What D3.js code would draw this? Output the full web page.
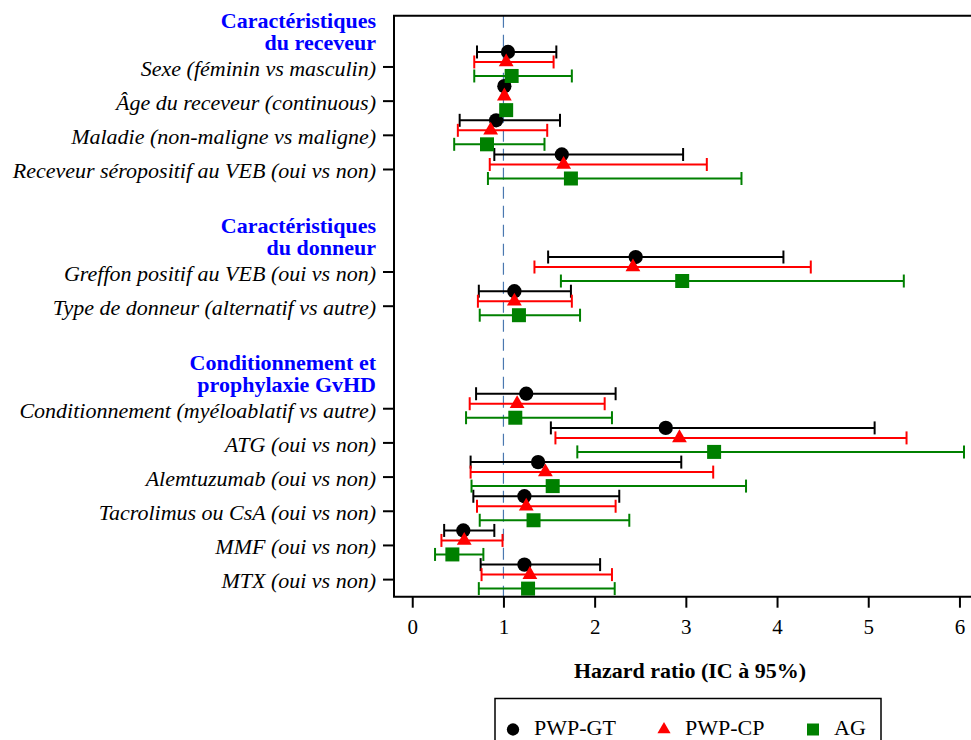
<!DOCTYPE html>
<html>
<head>
<meta charset="utf-8">
<script src="https://cdn.jsdelivr.net/npm/d3@7"></script>
<style>
  html, body { margin: 0; padding: 0; background: #fff; }
  svg { display: block; }
  text { font-family: "Liberation Serif", "Times New Roman", "DejaVu Serif", serif; }
</style>
</head>
<body>
<svg id="chart" width="971" height="740"></svg>
<script>
// ---------------- DATA ----------------
const groupHeaders = [
  ["Caractéristiques", "du receveur"],
  ["Caractéristiques", "du donneur"],
  ["Conditionnement et", "prophylaxie GvHD"]
];
const groupItems = [
  ["Sexe (féminin vs masculin)", "Âge du receveur (continuous)", "Maladie (non-maligne vs maligne)", "Receveur séropositif au VEB (oui vs non)"],
  ["Greffon positif au VEB (oui vs non)", "Type de donneur (alternatif vs autre)"],
  ["Conditionnement (myéloablatif vs autre)", "ATG (oui vs non)", "Alemtuzumab (oui vs non)", "Tacrolimus ou CsA (oui vs non)", "MMF (oui vs non)", "MTX (oui vs non)"]
];
const seriesNames = ["PWP-GT", "PWP-CP", "AG"];

// hazard ratios, in the order of the items above
const hrGT   = [1.05, 1.01, 0.92, 1.64, 2.45, 1.12, 1.25, 2.78, 1.38, 1.23, 0.56, 1.23];
const lowGT  = [0.71, 1.00, 0.52, 0.90, 1.49, 0.73, 0.70, 1.52, 0.64, 0.67, 0.35, 0.75];
const highGT = [1.58, 1.02, 1.62, 2.97, 4.07, 1.74, 2.23, 5.07, 2.95, 2.27, 0.90, 2.06];

const hrCP   = [1.03, 1.01, 0.86, 1.66, 2.42, 1.12, 1.15, 2.93, 1.46, 1.25, 0.57, 1.29];
const lowCP  = [0.68, 1.00, 0.50, 0.85, 1.34, 0.72, 0.63, 1.57, 0.64, 0.71, 0.32, 0.76];
const highCP = [1.55, 1.02, 1.48, 3.23, 4.37, 1.75, 2.11, 5.42, 3.30, 2.23, 0.99, 2.19];

const hrAG   = [1.09, 1.03, 0.82, 1.74, 2.96, 1.17, 1.13, 3.31, 1.54, 1.33, 0.44, 1.27];
const lowAG  = [0.68, 1.02, 0.46, 0.83, 1.63, 0.74, 0.59, 1.81, 0.65, 0.74, 0.25, 0.73];
const highAG = [1.75, 1.04, 1.45, 3.61, 5.39, 1.84, 2.19, 6.05, 3.66, 2.38, 0.78, 2.22];

const xTicks = [0, 1, 2, 3, 4, 5, 6];
const xTitle = "Hazard ratio (IC à 95%)";

// ---------------- LAYOUT ----------------
const svg = d3.select("#chart");
const plotLeft = 394, plotTop = 15.7, plotBottom = 596.7, plotRight = 976;

// build row list: header, items, blank separators
const rows = [];
const itemRows = [];
groupHeaders.forEach((h, gi) => {
  rows.push({ key: "h" + gi, type: "header", lines: h });
  groupItems[gi].forEach((lab) => {
    const r = { key: "i" + itemRows.length, type: "item", label: lab, idx: itemRows.length };
    rows.push(r); itemRows.push(r);
  });
  if (gi < groupHeaders.length - 1) rows.push({ key: "b" + gi, type: "blank" });
});

const x = d3.scaleLinear().domain([-0.2, 6.2]).range([plotLeft, plotLeft + 6.4 * 91.2]);
const y = d3.scalePoint().domain(rows.map(r => r.key)).range([plotTop, plotBottom]).padding(0.5);

const series = [
  { name: seriesNames[0], hr: hrGT, lo: lowGT, hi: highGT, color: "#000000", shape: d3.symbolCircle, size: 160, off: -15 },
  { name: seriesNames[1], hr: hrCP, lo: lowCP, hi: highCP, color: "#ff0000", shape: d3.symbolTriangle, size: 95, off: -5 },
  { name: seriesNames[2], hr: hrAG, lo: lowAG, hi: highAG, color: "#008000", shape: d3.symbolSquare, size: 196, off: 9 }
];

// reference line at HR = 1
svg.append("line")
  .attr("x1", x(1)).attr("x2", x(1))
  .attr("y1", plotTop).attr("y2", plotBottom)
  .attr("stroke", "#4a78b0").attr("stroke-width", 1.2)
  .attr("stroke-dasharray", "12,7");

// error bars and markers
const capH = 6.5;
series.forEach(s => {
  const g = svg.append("g");
  itemRows.forEach((r, i) => {
    const yy = y(r.key) + s.off;
    if (s.hi[i] - s.lo[i] > 0.05) {
      g.append("line").attr("x1", x(s.lo[i])).attr("x2", x(s.hi[i]))
        .attr("y1", yy).attr("y2", yy).attr("stroke", s.color).attr("stroke-width", 2);
      [s.lo[i], s.hi[i]].forEach(v => {
        g.append("line").attr("x1", x(v)).attr("x2", x(v))
          .attr("y1", yy - capH).attr("y2", yy + capH)
          .attr("stroke", s.color).attr("stroke-width", 2);
      });
    }
    g.append("path")
      .attr("d", d3.symbol().type(s.shape).size(s.size)())
      .attr("transform", `translate(${x(s.hr[i])},${yy})`)
      .attr("fill", s.color);
  });
});

// plot frame (left, top, bottom)
svg.append("path")
  .attr("d", `M${plotRight},${plotTop}H${plotLeft}V${plotBottom}H${plotRight}`)
  .attr("fill", "none").attr("stroke", "#000").attr("stroke-width", 2);

// x axis
const xAxis = svg.append("g")
  .attr("transform", `translate(0,${plotBottom})`)
  .call(d3.axisBottom(x).tickValues(xTicks).tickSize(11).tickPadding(11.5).tickFormat(d3.format("d")));
xAxis.select(".domain").remove();
xAxis.selectAll(".tick line").attr("stroke", "#000").attr("stroke-width", 2);
xAxis.selectAll(".tick text")
  .attr("font-family", '"Liberation Serif", "Times New Roman", serif')
  .attr("font-size", 21).attr("fill", "#000");

// y ticks and labels
itemRows.forEach(r => {
  svg.append("line").attr("x1", plotLeft - 11).attr("x2", plotLeft)
    .attr("y1", y(r.key)).attr("y2", y(r.key))
    .attr("stroke", "#000").attr("stroke-width", 2);
  svg.append("text").attr("x", 376).attr("y", y(r.key)).attr("dy", "0.4em")
    .attr("text-anchor", "end").attr("font-size", 22).attr("font-style", "italic")
    .attr("fill", "#000").text(r.label);
});

// group headers
rows.filter(r => r.type === "header").forEach(r => {
  const t = svg.append("text").attr("text-anchor", "end")
    .attr("font-size", 22).attr("font-weight", "bold").attr("fill", "#0000ff");
  r.lines.forEach((ln, k) => {
    t.append("tspan").attr("x", 376).attr("y", y(r.key) - 5 + k * 22).text(ln);
  });
});

// x title
svg.append("text").attr("x", 690).attr("y", 678)
  .attr("text-anchor", "middle").attr("font-size", 22).attr("font-weight", "bold")
  .attr("fill", "#000").text(xTitle);

// legend
const leg = svg.append("g");
leg.append("rect").attr("x", 495).attr("y", 698.5).attr("width", 386).attr("height", 60)
  .attr("fill", "none").attr("stroke", "#000").attr("stroke-width", 1.5);
const legX = [513, 664, 813];
const legSizes = [120, 75, 144];
series.forEach((s, i) => {
  leg.append("path").attr("d", d3.symbol().type(s.shape).size(legSizes[i])())
    .attr("transform", `translate(${legX[i]},${729.5})`).attr("fill", s.color);
  leg.append("text").attr("x", legX[i] + 21).attr("y", 735.3)
    .attr("font-size", 22).attr("fill", "#000").text(s.name);
});
</script>
</body>
</html>
